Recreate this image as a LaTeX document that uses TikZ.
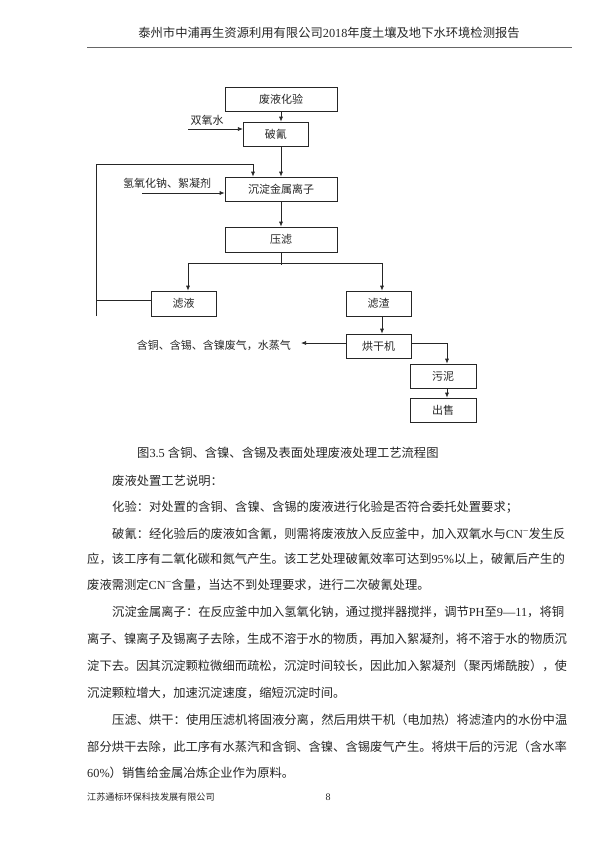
\documentclass[tikz,border=0pt]{standalone}
\usepackage{fontspec}
\setmainfont{Noto Sans CJK SC}
\newfontfamily\latinfont{Liberation Serif}
\newcommand\lt[1]{{\latinfont #1}}
\newcommand\fs[1]{\fontsize{#1pt}{#1pt}\selectfont}
\newcommand\cnminus{\lt{CN\raisebox{0.32em}{\fs{10}−}}}
\usetikzlibrary{arrows.meta,calc}
\XeTeXinterchartokenstate=1
\newcommand\cjkglue{\hskip 0pt plus 4pt minus 0.5pt\relax}
\XeTeXinterchartoks 1 1 = {\cjkglue}
\XeTeXinterchartoks 1 2 = {\cjkglue}
\XeTeXinterchartoks 1 3 = {\cjkglue}
\XeTeXinterchartoks 2 1 = {\cjkglue}
\XeTeXinterchartoks 3 1 = {\cjkglue}
\XeTeXinterchartoks 3 2 = {\cjkglue}
\XeTeXinterchartoks 3 3 = {\cjkglue}
\XeTeXinterchartoks 0 1 = {\cjkglue}
\XeTeXinterchartoks 1 0 = {\cjkglue}
\XeTeXinterchartoks 3 0 = {\cjkglue}
\XeTeXinterchartoks 0 3 = {\cjkglue}
\tikzset{
  box/.style={draw=black!85, line width=0.7pt, inner sep=0pt, font=\fs{11}, text=black!85},
  lbl/.style={inner sep=0pt, font=\fs{11}, text=black!85},
  flow/.style={draw=black!85, line width=0.7pt, -{Latex[length=5pt,width=4pt]}},
  ln/.style={draw=black!85, line width=0.7pt},
  body/.style={anchor=west, inner sep=0pt, font=\fs{12.3}, text=black!85},
}
\begin{document}
\begin{tikzpicture}[x=1pt, y=-1pt]
\useasboundingbox[fill=white] (0,0) rectangle (612,865);

% header
\node[inner sep=0pt, font=\fs{12.3}, text=black!85] (hdr) at (329,33)
  {泰州市中浦再生资源利用有限公司\lt{2018}年度土壤及地下水环境检测报告};
\draw[black!60, line width=0.8pt] (87,47) -- (572,47);

% flowchart boxes
\node[box, minimum width=112pt, minimum height=24pt] (b1) at (281,99) {废液化验};
\node[box, minimum width=65pt, minimum height=24pt] (b2) at (275.8,134) {破氰};
\node[box, minimum width=112pt, minimum height=24pt] (b3) at (281,189) {沉淀金属离子};
\node[box, minimum width=112pt, minimum height=25pt] (b4) at (281,239.5) {压滤};
\node[box, minimum width=65pt, minimum height=25pt] (b5) at (183.5,303.5) {滤液};
\node[box, minimum width=65pt, minimum height=25pt] (b6) at (378.5,303.5) {滤渣};
\node[box, minimum width=65pt, minimum height=24pt] (b7) at (378.5,346) {烘干机};
\node[box, minimum width=66pt, minimum height=24pt] (b8) at (443,376) {污泥};
\node[box, minimum width=66pt, minimum height=24pt] (b9) at (443,410) {出售};

% side labels
\node[lbl] (h2o2) at (207,120) {双氧水};
\node[lbl] (naoh) at (167,183) {氢氧化钠、絮凝剂};
\node[lbl, anchor=east] (gas) at (291,345) {含铜、含锡、含镍废气，水蒸气};

% coordinates
\coordinate (h2o2s) at (188,129);
\coordinate (naohs) at (142,193);
\coordinate (sp) at (281,263);
\coordinate (spl) at (188,263);
\coordinate (spr) at (382,263);
\coordinate (gasend) at (301,343);
\coordinate (slr) at (447,343);
\coordinate (fbl) at (96,300);
\coordinate (fbb) at (96,316);
\coordinate (fbt) at (96,164);
\coordinate (fbr) at (253,164);

% connectors
\draw[flow] (b1.south) -- (b1.south |- b2.north);
\draw[flow] (b3.north |- b2.south) -- (b3.north);
\draw[flow] (h2o2s) -- (h2o2s -| b2.west);
\draw[flow] (naohs) -- (naohs -| b3.west);
\draw[flow] (b3.south) -- (b4.north);
\draw[ln] (b4.south) -- ($(sp)+(0,1.5)$);
\draw[ln] (spl) -- (spr);
\draw[flow] (spl) -- (spl |- b5.north);
\draw[flow] (spr) -- (spr |- b6.north);
\draw[flow] (b6.south -| spr) -- (b7.north -| spr);
\draw[flow] (b7.west |- gasend) -- (gasend);
\draw[flow] (b7.east |- slr) -| (b8.north -| slr);
\draw[flow] (b8.south -| slr) -- (b9.north -| slr);
\draw[ln] (b5.west |- fbl) -- (fbl);
\draw[flow] (fbb) -- (fbt) -- (fbr) -- (fbr |- b3.north);

% caption and text
\node[body] (cap) at (137,453) {图\lt{3.5 }含铜、含镍、含锡及表面处理废液处理工艺流程图};
\node[body] (t1) at (112,481) {废液处置工艺说明：};
\node[body] (t2) at (112,507) {\hbox to 409pt{化验：对处置的含铜、含镍、含锡的废液进行化验是否符合委托处置要求；}};
\node[body] (t3) at (112,534) {\hbox to 455pt{破氰：经化验后的废液如含氰，则需将废液放入反应釜中，加入双氧水与\cnminus 发生反}};
\node[body] (t4) at (87,559) {\hbox to 478pt{应，该工序有二氧化碳和氮气产生。该工艺处理破氰效率可达到\lt{95\%}以上，破氰后产生的}};
\node[body] (t5) at (87,585) {废液需测定\cnminus 含量，当达不到处理要求，进行二次破氰处理。};
\node[body] (t6) at (112,612) {\hbox to 453pt{沉淀金属离子：在反应釜中加入氢氧化钠，通过搅拌器搅拌，调节\lt{PH}至\lt{9—11}，将铜}};
\node[body] (t7) at (87,639) {\hbox to 480pt{离子、镍离子及锡离子去除，生成不溶于水的物质，再加入絮凝剂，将不溶于水的物质沉}};
\node[body] (t8) at (87,666) {\hbox to 480pt{淀下去。因其沉淀颗粒微细而疏松，沉淀时间较长，因此加入絮凝剂（聚丙烯酰胺），使}};
\node[body] (t9) at (87,693) {沉淀颗粒增大，加速沉淀速度，缩短沉淀时间。};
\node[body] (t10) at (112,720) {\hbox to 455pt{压滤、烘干：使用压滤机将固液分离，然后用烘干机（电加热）将滤渣内的水份中温}};
\node[body] (t11) at (87,747) {\hbox to 480pt{部分烘干去除，此工序有水蒸汽和含铜、含镍、含锡废气产生。将烘干后的污泥（含水率}};
\node[body] (t12) at (87,773) {\lt{60\%}）销售给金属冶炼企业作为原料。};

% footer
\node[anchor=west, inner sep=0pt, font=\fs{9.1}, text=black!85] (ft) at (87,797) {江苏通标环保科技发展有限公司};
\node[inner sep=0pt, font=\fs{10}\latinfont, text=black!85] (pg) at (328,797) {8};
\end{tikzpicture}
\end{document}
